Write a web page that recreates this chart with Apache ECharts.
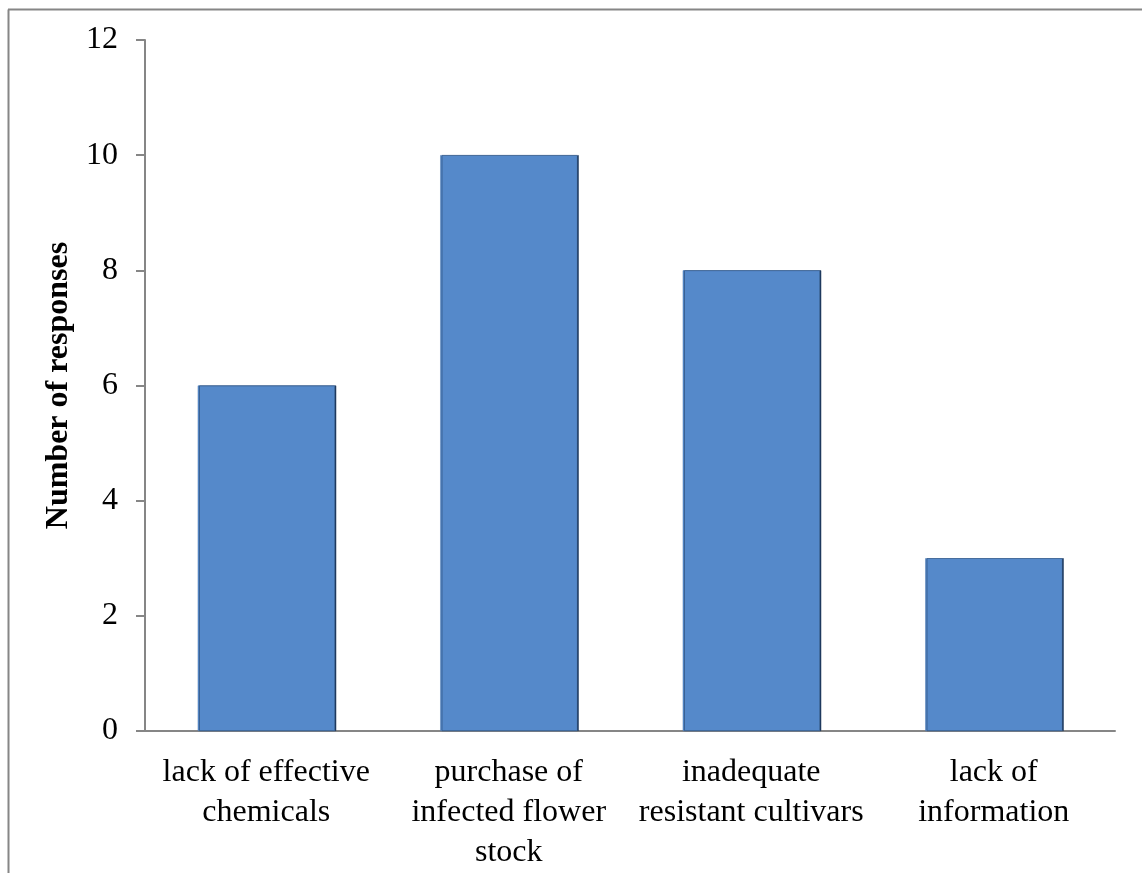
<!DOCTYPE html>
<html><head><meta charset="utf-8">
<script src="https://cdn.jsdelivr.net/npm/echarts@6/dist/echarts.min.js"></script>
<style>html,body{margin:0;padding:0;background:#fff}#c{width:1142px;height:873px}</style>
</head><body><div id="c"></div>
<script>
var categories = ['lack of effective\nchemicals', 'purchase of\ninfected flower\nstock', 'inadequate\nresistant cultivars', 'lack of\ninformation'];
var values = [6, 10, 8, 3];
var yTicks = [0, 2, 4, 6, 8, 10, 12];

var chart = echarts.init(document.getElementById('c'));
chart.setOption({
  animation: false,
  backgroundColor: '#fff',
  graphic: [
    {type: 'line', shape: {x1: 8.5, y1: 873, x2: 8.5, y2: 9.5}, style: {stroke: '#868686', lineWidth: 2}},
    {type: 'line', shape: {x1: 8, y1: 9.5, x2: 1142, y2: 9.5}, style: {stroke: '#868686', lineWidth: 2}}
  ],
  grid: {left: 145, right: 27, top: 40, bottom: 141},
  xAxis: {
    type: 'category',
    data: categories,
    axisLine: {lineStyle: {color: '#868686', width: 2}},
    axisTick: {show: false},
    axisLabel: {color: '#000', fontFamily: 'Liberation Serif', fontSize: 32, lineHeight: 40, margin: 22, interval: 0, align: 'center'}
  },
  yAxis: {
    type: 'value',
    min: yTicks[0], max: yTicks[yTicks.length - 1], interval: 2,
    name: 'Number of responses',
    nameLocation: 'middle',
    nameGap: 66,
    nameRotate: 90,
    nameTextStyle: {color: '#000', fontFamily: 'Liberation Serif', fontSize: 32, fontWeight: 'bold'},
    axisLine: {show: true, lineStyle: {color: '#868686', width: 2}},
    axisTick: {show: true, length: 9, lineStyle: {color: '#868686', width: 2}},
    splitLine: {show: false},
    axisLabel: {color: '#000', fontFamily: 'Liberation Serif', fontSize: 32, margin: 27, padding: [3, 0, 0, 0]}
  },
  series: [{
    type: 'bar',
    data: values,
    barWidth: '56.5%',
    itemStyle: {color: '#5589CA', borderColor: '#4a76ad', borderWidth: 0.5, shadowColor: '#1f3a5f', shadowOffsetX: 1.5, shadowBlur: 0}
  }]
});
</script></body></html>
